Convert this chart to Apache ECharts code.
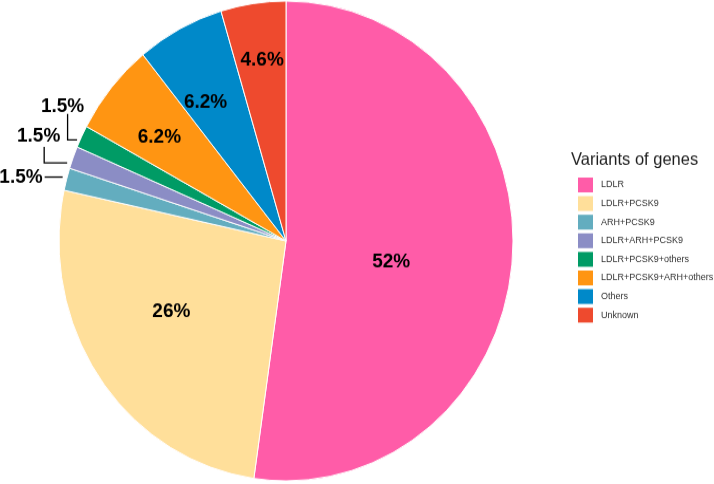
<!DOCTYPE html>
<html><head><meta charset="utf-8">
<script src="https://cdn.jsdelivr.net/npm/echarts@6/dist/echarts.min.js"></script>
<style>
html,body{margin:0;padding:0;background:#fff;overflow:hidden;}
#wrap{width:714px;height:484px;overflow:hidden;position:relative;background:#fff;}
#chart{width:714px;height:458px;transform:scaleY(1.05677);transform-origin:0 0;}
</style></head><body>
<div id="wrap"><div id="chart"></div></div>
<script>
// ---- data ----
const categories = ['LDLR','LDLR+PCSK9','ARH+PCSK9','LDLR+ARH+PCSK9','LDLR+PCSK9+others','LDLR+PCSK9+ARH+others','Others','Unknown'];
const percentValues = [52, 26, 1.5, 1.5, 1.5, 6.2, 6.2, 4.6];
const legendTitle = 'Variants of genes';

// ---- styles ----
const sliceColors = ['#FF5CA8','#FFDF9A','#63ADBF','#8B8DC5','#009B65','#FF9512','#0089C9','#EE4A2E'];
const insideOffsets = {0:[-11,11], 1:[-19,0], 5:[-37,-24], 6:[-26,-28], 7:[-7,-56]};
const outsideIdx = [2,3,4];
const FONT = '"Liberation Sans", Arial, Helvetica, sans-serif';

const chart = echarts.init(document.getElementById('chart'), null, {renderer:'canvas'});

const data = categories.map((name, i) => {
  const outside = outsideIdx.indexOf(i) >= 0;
  return {
    name: name,
    value: percentValues[i],
    itemStyle: {color: sliceColors[i]},
    label: {position: outside ? 'outside' : 'inside'},
    labelLine: {show: outside, length: 4, length2: 4}
  };
});

function layout(params) {
  const i = params.dataIndex;
  if (insideOffsets[i]) {
    return {dx: insideOffsets[i][0], dy: insideOffsets[i][1]};
  }
  const pts = params.labelLinePoints;
  if (!pts) return {};
  const p0 = pts[0];
  if (i === 2) {
    const A = [p0[0] - 4, p0[1] - 2];
    const B = [A[0] - 18, A[1]];
    return {x: B[0] - 2, y: B[1], align: 'right', verticalAlign: 'middle', labelLinePoints: [A, B, B]};
  }
  if (i === 3) {
    const A = [p0[0] - 6, p0[1] + 5];
    const B = [A[0] - 23, A[1]];
    const C = [B[0], B[1] - 15];
    return {x: C[0] - 5.5, y: C[1] - 10, align: 'center', verticalAlign: 'middle', labelLinePoints: [A, B, C]};
  }
  if (i === 4) {
    const A = [p0[0] - 4.5, p0[1] + 3];
    const B = [A[0] - 9.5, A[1]];
    const C = [B[0], B[1] - 24.6];
    return {x: C[0] - 5, y: C[1] - 7, align: 'center', verticalAlign: 'middle', labelLinePoints: [A, B, C]};
  }
  return {};
}

chart.setOption({
  animation: false,
  backgroundColor: '#fff',
  title: {
    text: legendTitle, left: 571, top: 143, padding: 0,
    textStyle: {fontSize: 16.5, fontWeight: 'normal', color: '#1e1e1e', fontFamily: FONT}
  },
  legend: {
    orient: 'vertical', left: 578, top: 168, padding: 0,
    itemWidth: 15, itemHeight: 14, itemGap: 3.6, icon: 'rect',
    itemStyle: {borderWidth: 0},
    textStyle: {fontSize: 9, color: '#333', fontFamily: FONT, padding: [0,0,0,3]},
    data: categories
  },
  series: [{
    type: 'pie',
    center: [286, 228],
    radius: 227,
    startAngle: 90,
    clockwise: true,
    avoidLabelOverlap: false,
    itemStyle: {borderColor: '#fff', borderWidth: 1},
    label: {
      show: true,
      formatter: p => p.value + '%',
      fontSize: 19, fontWeight: 'bold', color: '#000', fontFamily: FONT
    },
    labelLine: {lineStyle: {color: '#000', width: 1.3}, smooth: false},
    emphasis: {disabled: true},
    labelLayout: layout,
    data: data
  }]
});
</script>
</body></html>
